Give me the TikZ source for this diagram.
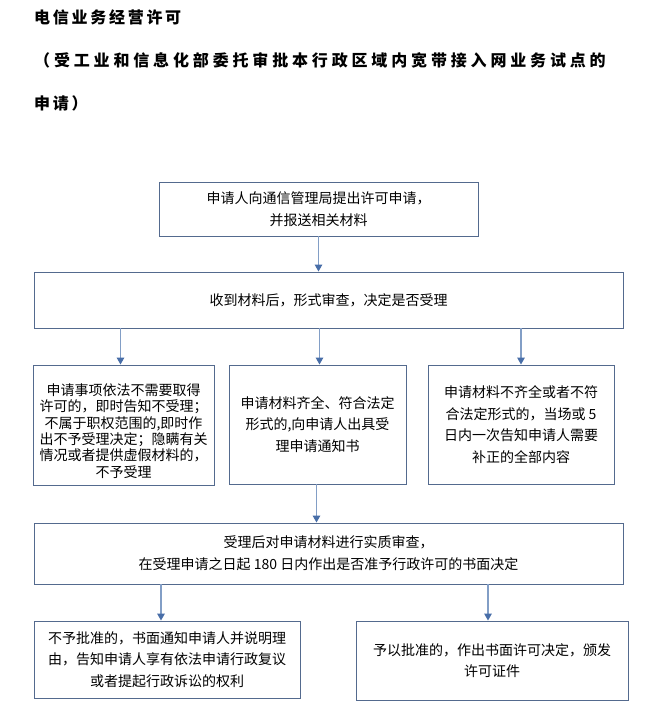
\documentclass[tikz,border=0pt]{standalone}
\usepackage{fontspec}
\newfontfamily\cjk{Noto Sans CJK SC}
\usetikzlibrary{arrows.meta}
\definecolor{boxc}{RGB}{84,106,142}
\definecolor{arrline}{RGB}{130,158,198}
\definecolor{arrhead}{RGB}{72,110,168}
\tikzset{
  box/.style={draw=boxc, line width=0.9pt, rectangle, inner sep=0pt, align=center,
    font=\cjk\fontsize{14}{21.7}\selectfont, text=black},
  txt/.style={inner sep=0pt, align=center, font=\cjk\fontsize{14}{16.3}\selectfont, text=black},
  ttl/.style={anchor=west, inner sep=0pt, text=black},
  arr/.style={draw=arrline, line width=1.3pt, -{Triangle[length=7pt,width=7.5pt,color=arrhead]}},
}
\begin{document}
\begin{tikzpicture}[x=1pt,y=-1pt]
\useasboundingbox (0,0) rectangle (663,711);
\fill[white] (0,0) rectangle (663,711);
% title
\node[ttl, font=\cjk\bfseries\fontsize{16}{16}\selectfont\addfontfeature{LetterSpace=17}] (t1) at (34,17) {电信业务经营许可};
\node[ttl, font=\cjk\bfseries\fontsize{16}{16}\selectfont\addfontfeature{LetterSpace=24}] (t2) at (34,60) {（受工业和信息化部委托审批本行政区域内宽带接入网业务试点的};
\node[ttl, font=\cjk\bfseries\fontsize{16}{16}\selectfont\addfontfeature{LetterSpace=17}] (t3) at (34,103) {申请）};
% boxes
\node[box, minimum width=319pt, minimum height=54pt] (b1) at (318.5,209) {申请人向通信管理局提出许可申请，\\并报送相关材料};
\node[box, minimum width=589pt, minimum height=56pt] (b2) at (328.5,300) {收到材料后，形式审查，决定是否受理};
\node[box, minimum width=181pt, minimum height=120pt] (b3a) at (123.5,425) {};
\node[txt] (t3a) at (123.5,431) {申请事项依法不需要取得\\许可的，即时告知不受理；\\不属于职权范围的,即时作\\出不予受理决定；隐瞒有关\\情况或者提供虚假材料的，\\不予受理};
\node[box, minimum width=177pt, minimum height=119pt] (b3b) at (317.5,424.5) {申请材料齐全、符合法定\\形式的,向申请人出具受\\理申请通知书};
\node[box, minimum width=186pt, minimum height=119pt] (b3c) at (521,424.5) {申请材料不齐全或者不符\\合法定形式的，当场或 5\\日内一次告知申请人需要\\补正的全部内容};
\node[box, minimum width=589pt, minimum height=61pt] (b4) at (328.5,553.5) {受理后对申请材料进行实质审查，\\在受理申请之日起 180 日内作出是否准予行政许可的书面决定};
\node[box, minimum width=266pt, minimum height=77pt] (b5a) at (167,659.5) {不予批准的，书面通知申请人并说明理\\由，告知申请人享有依法申请行政复议\\或者提起行政诉讼的权利};
\node[box, minimum width=272pt, minimum height=79pt] (b5b) at (492,660.5) {予以批准的，作出书面许可决定，颁发\\许可证件};
% connectors
\draw[arr] (b1.south) -- (b1.south |- b2.north);
\draw[arr] ([xshift=-3pt]b3a.north |- b2.south) -- ([xshift=-3pt]b3a.north);
\draw[arr] ([xshift=2pt]b3b.north |- b2.south) -- ([xshift=2pt]b3b.north);
\draw[arr] (b3c.north |- b2.south) -- (b3c.north);
\draw[arr] ([xshift=-1pt]b3b.south) -- ([xshift=-1pt]b3b.south |- b4.north);
\draw[arr] ([xshift=-6pt]b5a.north |- b4.south) -- ([xshift=-6pt]b5a.north);
\draw[arr] ([xshift=-4pt]b5b.north |- b4.south) -- ([xshift=-4pt]b5b.north);
\end{tikzpicture}
\end{document}
